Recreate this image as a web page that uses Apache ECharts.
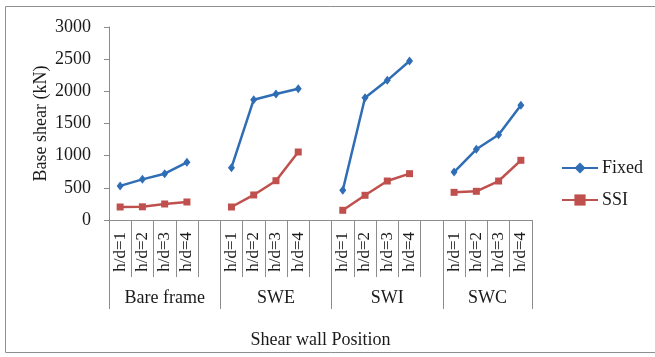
<!DOCTYPE html>
<html>
<head>
<meta charset="utf-8">
<script src="https://cdn.jsdelivr.net/npm/echarts@6/dist/echarts.min.js"></script>
<style>
  html, body { margin: 0; padding: 0; background: #fff; }
  #chart { width: 655px; height: 357px; }
</style>
</head>
<body>
<div id="chart"></div>
<script>
// Wall configurations and aspect ratios on the category axis
const groups = ['Bare frame', 'SWE', 'SWI', 'SWC'];
const ratios = ['h/d=1', 'h/d=2', 'h/d=3', 'h/d=4'];

// Base shear (kN), one row per wall configuration
const fixedValues = [
  [530, 632, 720, 897],
  [813, 1870, 1959, 2041],
  [462, 1901, 2171, 2472],
  [746, 1099, 1326, 1783]
];
const ssiValues = [
  [202, 205, 249, 280],
  [202, 389, 611, 1057],
  [151, 384, 606, 720],
  [430, 446, 606, 928]
];

const yTicks = [0, 500, 1000, 1500, 2000, 2500, 3000];

// Inner category list: four ratios per group, an empty slot between groups
const innerCats = [];
const fixedData = [];
const ssiData = [];
groups.forEach((g, gi) => {
  ratios.forEach((r, ri) => {
    innerCats.push(r);
    fixedData.push(fixedValues[gi][ri]);
    ssiData.push(ssiValues[gi][ri]);
  });
  if (gi < groups.length - 1) {
    innerCats.push('');
    fixedData.push(null);
    ssiData.push(null);
  }
});

// Outer axis on half-slot points: group names in the middle, separators on the edges
const halfCount = innerCats.length * 2 + 1;
const outerCats = new Array(halfCount).fill('');
const outerTicks = new Set([0]);
let start = 0;
groups.forEach((g, gi) => {
  const span = (gi < groups.length - 1 ? ratios.length + 1 : ratios.length) * 2;
  outerCats[start + span / 2] = g;
  start += span;
  outerTicks.add(start);
});

const font = "'Liberation Serif', 'Times New Roman', serif";
const textColor = '#1a1a1a';
const axisGray = '#8c8c8c';

const chart = echarts.init(document.getElementById('chart'));
chart.setOption({
  backgroundColor: '#fff',
  animation: false,
  textStyle: { fontFamily: font, color: textColor },
  graphic: [{
    type: 'rect',
    silent: true,
    shape: { x: 5.5, y: 6.5, width: 700, height: 346 },
    style: { fill: 'none', stroke: '#8f8f8f', lineWidth: 1 }
  }],
  grid: { left: 109, right: 123, top: 27, bottom: 137 },
  legend: {
    orient: 'vertical',
    left: 561,
    top: 159,
    padding: 0,
    itemWidth: 36,
    itemHeight: 14,
    itemGap: 14,
    textStyle: { fontFamily: font, fontSize: 18, color: textColor, padding: [0, 0, 0, -1] },
    data: ['Fixed', 'SSI']
  },
  xAxis: [
    {
      type: 'category',
      data: innerCats,
      boundaryGap: true,
      position: 'bottom',
      axisLine: { show: true, lineStyle: { color: axisGray, width: 1 } },
      axisTick: { show: true, interval: 0, length: 57, lineStyle: { color: axisGray } },
      axisLabel: {
        interval: 0, rotate: 90, margin: 12,
        fontFamily: font, fontSize: 17, color: textColor
      },
      name: 'Shear wall Position',
      nameLocation: 'middle',
      nameGap: 111,
      nameMoveOverlap: false,
      nameTextStyle: { fontFamily: font, fontSize: 18, color: textColor }
    },
    {
      type: 'category',
      data: outerCats,
      boundaryGap: false,
      position: 'bottom',
      axisLine: { show: false },
      axisTick: {
        show: true, length: 89,
        interval: (i) => outerTicks.has(i),
        lineStyle: { color: axisGray }
      },
      axisLabel: {
        interval: 0, margin: 69, lineHeight: 18,
        fontFamily: font, fontSize: 18, color: textColor
      }
    }
  ],
  yAxis: {
    type: 'value',
    min: yTicks[0],
    max: yTicks[yTicks.length - 1],
    interval: yTicks[1] - yTicks[0],
    axisLine: { show: true, lineStyle: { color: axisGray } },
    axisTick: { show: true, length: 5, lineStyle: { color: axisGray } },
    splitLine: { show: false },
    axisLabel: {
      margin: 18, fontFamily: font, fontSize: 18, color: textColor,
      formatter: (v) => String(v)
    },
    name: 'Base shear (kN)',
    nameLocation: 'middle',
    nameGap: 59,
    nameMoveOverlap: false,
    nameTextStyle: { fontFamily: font, fontSize: 18, color: textColor }
  },
  series: [
    {
      name: 'Fixed',
      type: 'line',
      xAxisIndex: 0,
      data: fixedData,
      connectNulls: false,
      symbol: 'diamond',
      symbolSize: [7, 9],
      lineStyle: { color: '#2f6db5', width: 2.5 },
      itemStyle: { color: '#2f6db5' }
    },
    {
      name: 'SSI',
      type: 'line',
      xAxisIndex: 0,
      data: ssiData,
      connectNulls: false,
      symbol: 'rect',
      symbolSize: 7,
      lineStyle: { color: '#c0504d', width: 2.5 },
      itemStyle: { color: '#c0504d' }
    }
  ]
});
</script>
</body>
</html>
